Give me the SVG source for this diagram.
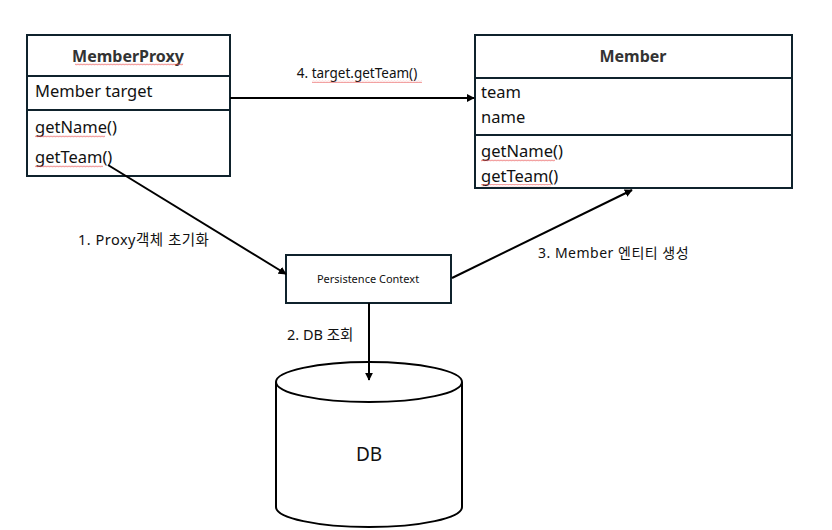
<svg xmlns="http://www.w3.org/2000/svg" width="832" height="530" viewBox="0 0 832 530">
<style>
.box{fill:#fff;stroke:#0f222c;stroke-width:2}
.ln{stroke:#000;stroke-width:2;fill:none}
.t{font-family:"Noto Sans","Noto Sans CJK KR",sans-serif;fill:#111}
.f17{font-size:16.5px}
.title{font-size:16px;font-weight:bold;fill:#333}
.lbl{font-size:13.5px}
.sq{fill:url(#squig)}
</style>
<defs>
<pattern id="squig" width="3" height="3" patternUnits="userSpaceOnUse">
<path d="M0,2.2 L0.75,0.8 L1.5,2.2 L2.25,0.8 L3,2.2" stroke="#e85050" stroke-width="0.5" fill="none"/>
</pattern>
<marker id="ah" viewBox="0 0 10 10" refX="9" refY="5" markerWidth="4" markerHeight="4" orient="auto">
<path d="M0,0 L10,5 L0,10 z" fill="#000"/>
</marker>
</defs>
<rect width="832" height="530" fill="#fff"/>

<g id="MemberProxy">
<rect class="box" x="27" y="35" width="203" height="141"/>
<line class="box" x1="27" y1="76" x2="230" y2="76"/>
<line class="box" x1="27" y1="110" x2="230" y2="110"/>
<text class="t title" x="128" y="62" text-anchor="middle">MemberProxy</text>
<rect class="sq" x="75" y="63" width="108" height="3"/>
<text class="t f17" x="35" y="97">Member target</text>
<text class="t f17" x="35" y="133">getName()</text>
<rect class="sq" x="35" y="135" width="70" height="3"/>
<text class="t f17" x="35" y="163">getTeam()</text>
<rect class="sq" x="35" y="165" width="68" height="3"/>
</g>

<g id="Member">
<rect class="box" x="475" y="35" width="317" height="153"/>
<line class="box" x1="475" y1="78" x2="792" y2="78"/>
<line class="box" x1="475" y1="135" x2="792" y2="135"/>
<text class="t title" x="633" y="62" text-anchor="middle">Member</text>
<text class="t f17" x="481" y="98">team</text>
<text class="t f17" x="481" y="123">name</text>
<text class="t f17" x="481" y="157">getName()</text>
<rect class="sq" x="481" y="159" width="74" height="3"/>
<text class="t f17" x="481" y="182">getTeam()</text>
<rect class="sq" x="481" y="184" width="70" height="3"/>
</g>

<g id="PersistenceContext">
<rect class="box" x="286" y="255" width="165" height="48"/>
<text class="t" x="368" y="283" font-size="11" text-anchor="middle">Persistence Context</text>
</g>

<g id="DB">
<path d="M276,382 L276,507 A93,20 0 0 0 462,507 L462,382" fill="#fff" stroke="#000" stroke-width="2"/>
<ellipse cx="369" cy="382" rx="93" ry="20" fill="#fff" stroke="#000" stroke-width="2"/>
<text class="t" x="369" y="461" font-size="19" text-anchor="middle">DB</text>
</g>

<g id="connectors">
<line class="ln" x1="230" y1="98" x2="474" y2="98" marker-end="url(#ah)"/>
<line class="ln" x1="108" y1="165" x2="286" y2="274" marker-end="url(#ah)"/>
<line class="ln" x1="369" y1="303" x2="369" y2="380" marker-end="url(#ah)"/>
<line class="ln" x1="452" y1="278" x2="632" y2="190" marker-end="url(#ah)"/>
<text class="t lbl" x="357" y="78" text-anchor="middle">4. target.getTeam()</text>
<rect class="sq" x="312" y="80" width="110" height="3"/>
<text class="t lbl" x="78" y="245" style="font-size:14.5px" letter-spacing="0.5">1. Proxy객체 초기화</text>
<text class="t lbl" x="287" y="340" style="font-size:14.5px">2. DB 조회</text>
<text class="t lbl" x="538" y="258" style="font-size:14px" letter-spacing="0.5">3. Member 엔티티 생성</text>
</g>
</svg>
